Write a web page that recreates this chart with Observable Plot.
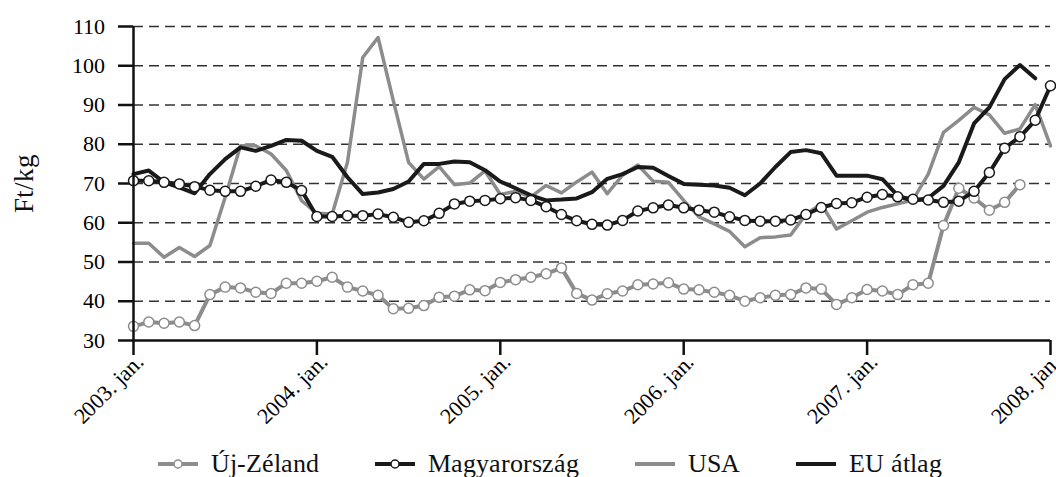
<!DOCTYPE html>
<html><head><meta charset="utf-8">
<script src="https://cdn.jsdelivr.net/npm/d3@7"></script>
<script src="https://cdn.jsdelivr.net/npm/@observablehq/plot@0.6"></script>
<style>
@font-face { font-family: "ChartSerif"; src: local("Liberation Serif"), local("LiberationSerif"), local("Liberation Serif Regular"), local("LiberationSerif-Regular"); }
</style>
</head><body style="margin:0">
<div id="chart"></div>
<div id="legend"></div>
<script>
const tickLabels = ["2003. jan.", "2004. jan.", "2005. jan.", "2006. jan.", "2007. jan.", "2008. jan."];
const seriesNames = ["Új-Zéland", "Magyarország", "USA", "EU átlag"];
const yTicks = [30, 40, 50, 60, 70, 80, 90, 100, 110];

// monthly values, 2003. jan. = index 0
const ujZeland = [33.6, 34.7, 34.4, 34.7, 33.8, 41.7, 43.6, 43.4, 42.3, 42.0, 44.6, 44.6,
  45.1, 46.1, 43.6, 42.6, 41.5, 38.1, 38.2, 38.9, 41.0, 41.3, 42.9, 42.7,
  44.8, 45.5, 46.1, 47.0, 48.5, 42.0, 40.3, 41.9, 42.6, 44.2, 44.4, 44.7,
  43.1, 42.9, 42.3, 41.5, 40.0, 40.9, 41.5, 41.7, 43.4, 43.1, 39.2, 40.9,
  43.0, 42.6, 41.7, 44.2, 44.6, 59.3, 68.8, 66.3, 63.2, 65.2, 69.7];
const magyarorszag = [70.7, 70.7, 70.3, 69.9, 69.2, 68.3, 68.0, 68.0, 69.3, 70.9, 70.3, 68.2,
  61.6, 61.6, 61.8, 61.8, 62.2, 61.4, 60.1, 60.5, 62.4, 64.8, 65.5, 65.7,
  66.1, 66.4, 65.7, 64.1, 62.1, 60.5, 59.6, 59.4, 60.6, 63.0, 63.8, 64.5,
  63.8, 63.2, 62.7, 61.5, 60.6, 60.4, 60.4, 60.7, 62.1, 63.9, 64.9, 65.1,
  66.5, 67.2, 66.6, 66.0, 65.8, 65.2, 65.5, 68.0, 72.8, 79.0, 81.9, 86.1, 94.9];
const usa = [54.8, 54.8, 51.2, 53.7, 51.4, 54.2, 66.5, 79.6, 79.6, 77.5, 73.3, 65.6,
  62.4, 62.2, 75.4, 102.1, 107.2, 91.1, 75.4, 71.1, 74.3, 69.7, 70.1, 73.2,
  67.2, 68.0, 66.6, 69.5, 67.6, 70.4, 72.9, 67.4, 72.1, 74.7, 70.6, 70.3,
  65.7, 61.5, 59.7, 57.8, 53.9, 56.2, 56.4, 56.9, 62.2, 64.8, 58.4, 60.5,
  62.7, 63.9, 64.8, 65.8, 72.4, 83.0, 86.1, 89.4, 87.5, 82.8, 83.9, 90.1, 79.6];
const euAtlag = [72.4, 73.3, 70.3, 69.0, 67.5, 72.4, 76.2, 79.2, 78.3, 79.6, 81.1, 80.9,
  78.3, 76.8, 71.6, 67.3, 67.7, 68.6, 70.5, 75.0, 75.0, 75.6, 75.4, 73.4,
  70.5, 68.8, 67.0, 65.7, 65.9, 66.2, 67.8, 71.2, 72.4, 74.2, 74.0, 71.9,
  69.9, 69.7, 69.5, 68.9, 67.0, 70.0, 74.2, 78.0, 78.5, 77.7, 72.0, 72.0,
  72.0, 71.1, 66.9, 65.5, 66.3, 69.4, 75.4, 85.3, 89.4, 96.6, 100.2, 96.8];

const GRAY = "#8c8c8c", BLACK = "#1a1a1a";
const FONT = "ChartSerif, 'Liberation Serif', 'Times New Roman', serif";
const xi = (d, i) => i, yv = d => d;
const xTickPos = tickLabels.map((_, k) => k * 12);

const chart = Plot.plot({
  width: 1056, height: 448,
  marginLeft: 133, marginRight: 6, marginTop: 26, marginBottom: 108,
  style: {fontFamily: FONT, fontSize: "22px"},
  x: {type: "linear", domain: [0, 60]},
  y: {domain: [30, 110]},
  marks: [
    Plot.gridY(yTicks.slice(1), {stroke: "#333", strokeOpacity: 1, strokeWidth: 1.4, strokeDasharray: "10,6"}),
    Plot.axisY(yTicks, {tickSize: 15, tickPadding: 14, fontSize: 22, fontFamily: FONT, stroke: "#111", strokeWidth: 2.5, label: null}),
    Plot.axisX(xTickPos, {tickSize: 15, tickFormat: () => "", stroke: "#111", strokeWidth: 2.5, label: null}),
    Plot.axisX(xTickPos, {tickSize: 0, tickPadding: 17, tickRotate: -45, tickFormat: v => tickLabels[v / 12], fontSize: 22, fontFamily: FONT, dx: 7, dy: 0, label: null}),
    Plot.text(["Ft/kg"], {frameAnchor: "left", textAnchor: "middle", dx: -109, rotate: -90, fontSize: 27, fontFamily: FONT, fill: "#111"}),
    Plot.line(usa, {x: xi, y: yv, stroke: GRAY, strokeWidth: 3.5}),
    Plot.line(euAtlag, {x: xi, y: yv, stroke: BLACK, strokeWidth: 4}),
    Plot.line(ujZeland, {x: xi, y: yv, stroke: GRAY, strokeWidth: 4}),
    Plot.dot(ujZeland, {x: xi, y: yv, r: 5, fill: "white", stroke: GRAY, strokeWidth: 1.5}),
    Plot.line(magyarorszag, {x: xi, y: yv, stroke: BLACK, strokeWidth: 4}),
    Plot.dot(magyarorszag, {x: xi, y: yv, r: 5, fill: "white", stroke: BLACK, strokeWidth: 1.5}),
    Plot.ruleX([0], {stroke: "#111", strokeWidth: 2.5}),
    Plot.ruleY([30], {stroke: "#111", strokeWidth: 2.5})
  ]
});
document.getElementById("chart").appendChild(chart);

const legendStyles = [
  {color: GRAY, dot: true}, {color: BLACK, dot: true}, {color: GRAY, dot: false}, {color: BLACK, dot: false}
];
const legend = document.getElementById("legend");
legend.style.cssText = "display:flex;align-items:center;gap:56px;padding-left:158px;padding-top:3px;height:26px;color:#111;line-height:1;";
seriesNames.forEach((name, k) => {
  const s = legendStyles[k];
  const item = document.createElement("div");
  item.style.cssText = "display:flex;align-items:center;gap:13px;";
  const sw = document.createElementNS("http://www.w3.org/2000/svg", "svg");
  sw.setAttribute("width", "40"); sw.setAttribute("height", "12"); sw.style.display = "block";
  sw.innerHTML = `<line x1="0" x2="40" y1="6" y2="6" stroke="${s.color}" stroke-width="4"/>` +
    (s.dot ? `<circle cx="20" cy="6" r="4" fill="white" stroke="${s.color}" stroke-width="1.5"/>` : "");
  const label = document.createElement("span");
  label.textContent = name;
  label.style.fontFamily = FONT;
  label.style.fontSize = "26px";
  item.appendChild(sw); item.appendChild(label);
  legend.appendChild(item);
});
</script>
</body></html>
